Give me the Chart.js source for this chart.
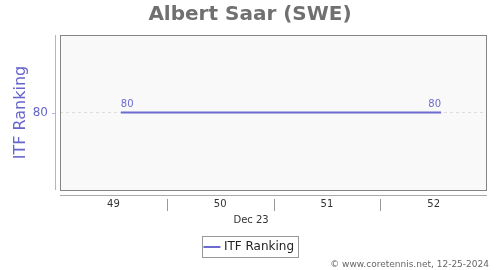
<!DOCTYPE html>
<html>
<head>
<meta charset="utf-8">
<script src="https://cdn.jsdelivr.net/npm/chart.js@4"></script>
<style>
  html, body { margin: 0; padding: 0; background: #fff; }
  #wrap { width: 500px; height: 270px; position: relative; }
</style>
</head>
<body>
<div id="wrap"><canvas id="rankChart"></canvas></div>
<script>
// data
const weeks = [49.07, 52.07];          // week-of-year position of each ranking point
const rankings = [80, 80];
const weekTicks = [49, 50, 51, 52];
const weekSeparators = [49.5, 50.5, 51.5];
const monthLabel = 'Dec 23';
const monthLabelAt = 50.29;
const rankTicks = [80];

const lineColor = '#6b6bd0';
const font = 'DejaVu Sans';

// frame, offset axis lines, separators, point labels, month label, credit
const decorPlugin = {
    id: 'decor',
    beforeDraw(chart) {
        const { ctx, chartArea: a } = chart;
        ctx.save();
        ctx.fillStyle = '#f9f9f9';
        ctx.fillRect(a.left, a.top, a.right - a.left, a.bottom - a.top);
        ctx.restore();
    },
    afterDatasetsDraw(chart) {
        const { ctx, chartArea: a } = chart;
        const xs = chart.scales.x;
        ctx.save();
        // plot frame
        ctx.strokeStyle = '#858585';
        ctx.lineWidth = 1;
        ctx.strokeRect(a.left + 0.5, a.top + 0.5, a.right - a.left - 1, a.bottom - a.top);

        // y axis line, offset to the left
        ctx.strokeStyle = '#b0b0ec';
        ctx.beginPath();
        ctx.moveTo(a.left - 4.5, a.top);
        ctx.lineTo(a.left - 4.5, a.bottom);
        ctx.stroke();
        // tick mark for 80
        const ys = chart.scales.y;
        rankTicks.forEach(v => {
            const y = Math.round(ys.getPixelForValue(v)) + 0.5;
            ctx.beginPath();
            ctx.moveTo(a.left - 8, y);
            ctx.lineTo(a.left - 4, y);
            ctx.stroke();
        });

        // x axis line, offset below
        ctx.strokeStyle = '#aaaaaa';
        ctx.beginPath();
        ctx.moveTo(a.left, a.bottom + 5.5);
        ctx.lineTo(a.right, a.bottom + 5.5);
        ctx.stroke();

        // week separators
        ctx.strokeStyle = '#999999';
        weekSeparators.forEach(v => {
            const x = Math.round(xs.getPixelForValue(v)) + 0.5;
            ctx.beginPath();
            ctx.moveTo(x, a.bottom + 9);
            ctx.lineTo(x, a.bottom + 21);
            ctx.stroke();
        });

        // month label
        ctx.fillStyle = '#333';
        ctx.font = '10px "' + font + '"';
        ctx.textAlign = 'center';
        ctx.textBaseline = 'middle';
        ctx.fillText(monthLabel, xs.getPixelForValue(monthLabelAt), a.bottom + 30);

        // point labels
        const pts = chart.getDatasetMeta(0).data;
        ctx.fillStyle = lineColor;
        ctx.textBaseline = 'bottom';
        pts.forEach((p, i) => {
            ctx.textAlign = i === 0 ? 'left' : (i === pts.length - 1 ? 'right' : 'center');
            ctx.fillText(String(rankings[i]), p.x, p.y - 3);
        });

        // credit
        ctx.fillStyle = '#666';
        ctx.font = '9px "' + font + '"';
        ctx.textAlign = 'right';
        ctx.textBaseline = 'middle';
        ctx.fillText('\u00a9 www.coretennis.net, 12-25-2024', chart.width - 11, chart.height - 5);
        ctx.restore();
    },
    afterDraw(chart) {
        // border around legend
        const lg = chart.legend;
        if (!lg || !lg.legendHitBoxes.length) return;
        const b = lg.legendHitBoxes[0];
        const ctx = chart.ctx;
        ctx.save();
        ctx.strokeStyle = '#999';
        ctx.lineWidth = 1;
        ctx.strokeRect(Math.round(b.left - 4) + 0.5, Math.round(b.top - 5) + 0.5,
                       Math.round(b.width + 8), 21);
        ctx.restore();
    }
};

new Chart(document.getElementById('rankChart'), {
    type: 'line',
    data: {
        datasets: [{
            label: 'ITF Ranking',
            data: weeks.map((w, i) => ({ x: w, y: rankings[i] })),
            borderColor: lineColor,
            backgroundColor: lineColor,
            borderWidth: 2,
            pointRadius: 0,
            tension: 0
        }]
    },
    options: {
        responsive: true,
        maintainAspectRatio: false,
        animation: false,
        layout: { padding: { left: 0, right: 0, top: 0, bottom: 7 } },
        plugins: {
            title: {
                display: true,
                text: 'Albert Saar (SWE)',
                color: '#707070',
                font: { family: font, size: 20, weight: 'bold' },
                padding: { top: 3, bottom: 8 }
            },
            legend: {
                position: 'bottom',
                labels: {
                    usePointStyle: true,
                    pointStyle: 'line',
                    boxWidth: 14,
                    color: '#222',
                    font: { family: font, size: 12 },
                    padding: 8
                }
            },
            tooltip: { enabled: false }
        },
        scales: {
            x: {
                type: 'linear',
                min: 48.5,
                max: 52.5,
                afterBuildTicks(s) { s.ticks = weekTicks.map(v => ({ value: v })); },
                ticks: {
                    color: '#333',
                    font: { family: font, size: 10 },
                    padding: 8,
                    maxRotation: 0
                },
                grid: { display: false, drawTicks: false },
                border: { display: false },
                afterFit(s) { s.height = 43; }
            },
            y: {
                reverse: true,
                min: 70,
                max: 90,
                afterBuildTicks(s) { s.ticks = rankTicks.map(v => ({ value: v })); },
                ticks: {
                    color: '#6666cc',
                    font: { family: font, size: 12 },
                    padding: 12
                },
                grid: {
                    color: '#dddddd',
                    drawTicks: false
                },
                border: { display: false, dash: [3, 3] },
                title: {
                    display: true,
                    text: 'ITF Ranking',
                    color: '#6666cc',
                    font: { family: font, size: 16 },
                    padding: { top: 11, bottom: 0 }
                },
                afterFit(s) { s.width = 60; }
            },
            // empty right-hand spacer so the legend stays centred on the page
            yRight: {
                position: 'right',
                display: true,
                ticks: { display: false },
                grid: { display: false, drawTicks: false },
                border: { display: false },
                afterFit(s) { s.width = 13; }
            }
        }
    },
    plugins: [decorPlugin]
});
</script>
</body>
</html>
